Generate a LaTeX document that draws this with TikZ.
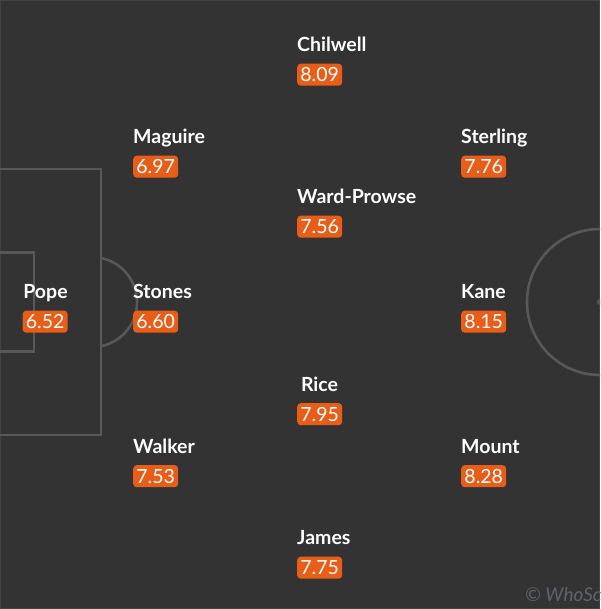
\documentclass[tikz,border=0pt]{standalone}
\usepackage{fontspec}
\setmainfont{Lato}
\definecolor{pitchbg}{RGB}{51,51,51}
\definecolor{pitchline}{RGB}{88,88,88}
\definecolor{frameline}{RGB}{66,66,66}
\definecolor{badgeorange}{RGB}{232,93,23}
\definecolor{wmgray}{RGB}{95,100,108}
\begin{document}
\begin{tikzpicture}[x=1pt,y=-1pt,
  pline/.style={draw=pitchline, line width=2.6pt},
  pname/.style={text=white, font=\bfseries\fontsize{19.5}{21}\selectfont, anchor=base west, inner sep=0pt},
  pbadge/.style={fill=badgeorange, rounded corners=3.5pt, text=white, font=\fontsize{19.5}{21}\selectfont, anchor=north west, minimum width=45pt, minimum height=22pt, inner xsep=2pt, inner ysep=0pt}]
\useasboundingbox (0,0) rectangle (600,609);
\fill[pitchbg] (0,0) rectangle (600,609);
\clip (0,0) rectangle (600,609);
\draw[frameline, line width=1pt] (0.5,0.5) rectangle (599.5,608.5);
% pitch
\draw[pline] (-5,169) -- (101,169) -- (101,435) -- (-5,435);
\draw[pline] (-5,252.5) -- (34,252.5) -- (34,351.5) -- (-5,351.5);
\draw[pline] (101,258) arc[start angle=-78.5, end angle=78.5, radius=45] ;
\draw[pline] (600,302) circle[radius=73];
\fill[pitchline] (600,302) circle[radius=3];
% players
\node[pname] (chilN) at (297,51.5) {Chilwell};
\node[pbadge] (chilR) at (297,63.5) {8.09};
\node[pname] (magN) at (133,143.5) {Maguire};
\node[pbadge] (magR) at (133,155.5) {6.97};
\node[pname] (sterN) at (461,143.5) {Sterling};
\node[pbadge] (sterR) at (461,155.5) {7.76};
\node[pname] (wardN) at (297,203.5) {Ward-Prowse};
\node[pbadge] (wardR) at (297,215.5) {7.56};
\node[pname, anchor=base] (popeN) at (45.5,298.5) {Pope};
\node[pbadge] (popeR) at (22.5,310.5) {6.52};
\node[pname] (stonN) at (133,298.5) {Stones};
\node[pbadge] (stonR) at (133,310.5) {6.60};
\node[pname] (kaneN) at (461,298.5) {Kane};
\node[pbadge] (kaneR) at (461,310.5) {8.15};
\node[pname, anchor=base] (riceN) at (319.5,391) {Rice};
\node[pbadge] (riceR) at (297,403) {7.95};
\node[pname] (walkN) at (133,453) {Walker};
\node[pbadge] (walkR) at (133,465) {7.53};
\node[pname] (mounN) at (461,453) {Mount};
\node[pbadge] (mounR) at (461,465) {8.28};
\node[pname] (jameN) at (297,544.5) {James};
\node[pbadge] (jameR) at (297,556.5) {7.75};
% watermark
\node[anchor=base west, inner sep=0pt, text=wmgray, font=\itshape\fontsize{19}{20}\selectfont] (wm) at (525,601) {© WhoScored.com};
\end{tikzpicture}
\end{document}
